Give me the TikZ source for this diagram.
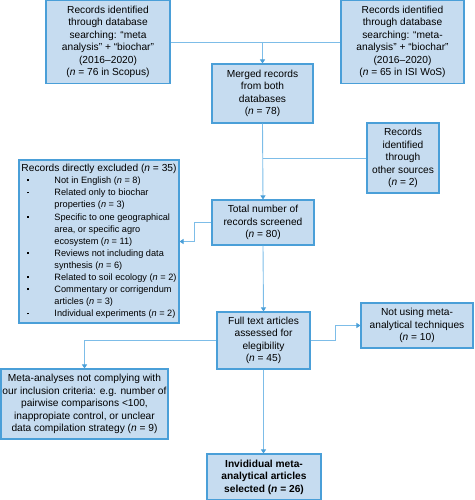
\documentclass[tikz,border=0pt]{standalone}
\usepackage{fontspec}
\setmainfont{Liberation Sans}
\usetikzlibrary{arrows.meta}
\definecolor{boxfill}{HTML}{C6DCF0}
\definecolor{boxline}{HTML}{4A9FD8}
\definecolor{linkcol}{HTML}{7DBDE8}
\newcommand{\nn}{\textit{n}}
\newcommand{\bul}{\makebox[33pt][l]{\hspace{6pt}\rule[2.5pt]{1.8pt}{1.8pt}}}
\newcommand{\ind}{\hspace*{33pt}}
\begin{document}
\begin{tikzpicture}
          [x=1pt,y=-1pt,
           every node/.style={draw=boxline, fill=boxfill, line width=1.1pt, inner sep=0pt, align=center,
             font=\fontsize{10.2}{12.5}\selectfont},
           link/.style={draw=linkcol, line width=0.9pt},
           arr/.style={link, -{Triangle[width=5pt,length=4pt,color=boxline]}}]
        \useasboundingbox (0,0) rectangle (474,500);

        \node[minimum width=124, minimum height=83] (scopus) at (108,42)
          {Records identified\\through database\\searching: “meta\\analysis” + “biochar”\\(2016–2020)\\(\nn{} = 76 in Scopus)};
        \node[minimum width=123, minimum height=83] (wos) at (402.5,42)
          {Records identified\\through database\\searching: “meta-\\analysis” + “biochar”\\(2016–2020)\\(\nn{} = 65 in ISI WoS)};
        \node[minimum width=101, minimum height=59] (merged) at (262.5,93.5)
          {Merged records\\from both\\databases\\(\nn{} = 78)};
        \node[minimum width=72, minimum height=70] (other) at (403,158)
          {Records\\identified\\through\\other sources\\(\nn{} = 2)};
        \node[minimum width=160, minimum height=163, align=left, font=\fontsize{9.2}{12.1}\selectfont] (excl) at (99,241.5)
          {{\fontsize{10.2}{12.1}\selectfont Records directly excluded (\nn{} = 35)}\\%
           \bul Not in English (\nn{} = 8)\\%
           \bul Related only to biochar\\\ind properties (\nn{} = 3)\\%
           \bul Specific to one geographical\\\ind area, or specific agro\\\ind ecosystem (\nn{} = 11)\\%
           \bul Reviews not including data\\\ind synthesis (\nn{} = 6)\\%
           \bul Related to soil ecology (\nn{} = 2)\\%
           \bul Commentary or corrigendum\\\ind articles (\nn{} = 3)\\%
           \bul Individual experiments (\nn{} = 2)};
        \node[minimum width=102, minimum height=45] (total) at (263,222.5)
          {Total number of\\records screened\\(\nn{} = 80)};
        \node[minimum width=93, minimum height=57] (full) at (263.5,340.5)
          {Full text articles\\assessed for\\elegibility\\(\nn{} = 45)};
        \node[minimum width=112, minimum height=45] (notmeta) at (417,325.5)
          {Not using meta-\\analytical techniques\\(\nn{} = 10)};
        \node[minimum width=167, minimum height=70] (crit) at (84.5,404)
          {Meta-analyses not complying with\\our inclusion criteria: e.g. number of\\pairwise comparisons <100,\\inappropiate control, or unclear\\data compilation strategy (\nn{} = 9)};
        \node[minimum width=114, minimum height=46, font=\fontsize{10.2}{12.5}\selectfont\bfseries] (final) at (264,477)
          {Invididual meta-\\analytical articles\\selected (\nn{} = 26)};

        \draw[link] (scopus.east) -- (wos.west);
        \draw[arr] (scopus.east -| merged.north) -- (merged.north);
        \draw[arr] (merged.south) -- (total.north);
        \draw[link] (other.west) -- (other.west -| total.north);
        \draw[arr] (total.west) -- ++(-17,0) |- (excl.east);
        \draw[arr] (total.south) -- (full.north);
        \draw[arr] (full.east) -- ++(25,0) |- (notmeta.west);
        \draw[arr] (full.west) -| (crit.north);
        \draw[arr] (full.south) -- (full.south |- final.north);
      \end{tikzpicture}
\end{document}
